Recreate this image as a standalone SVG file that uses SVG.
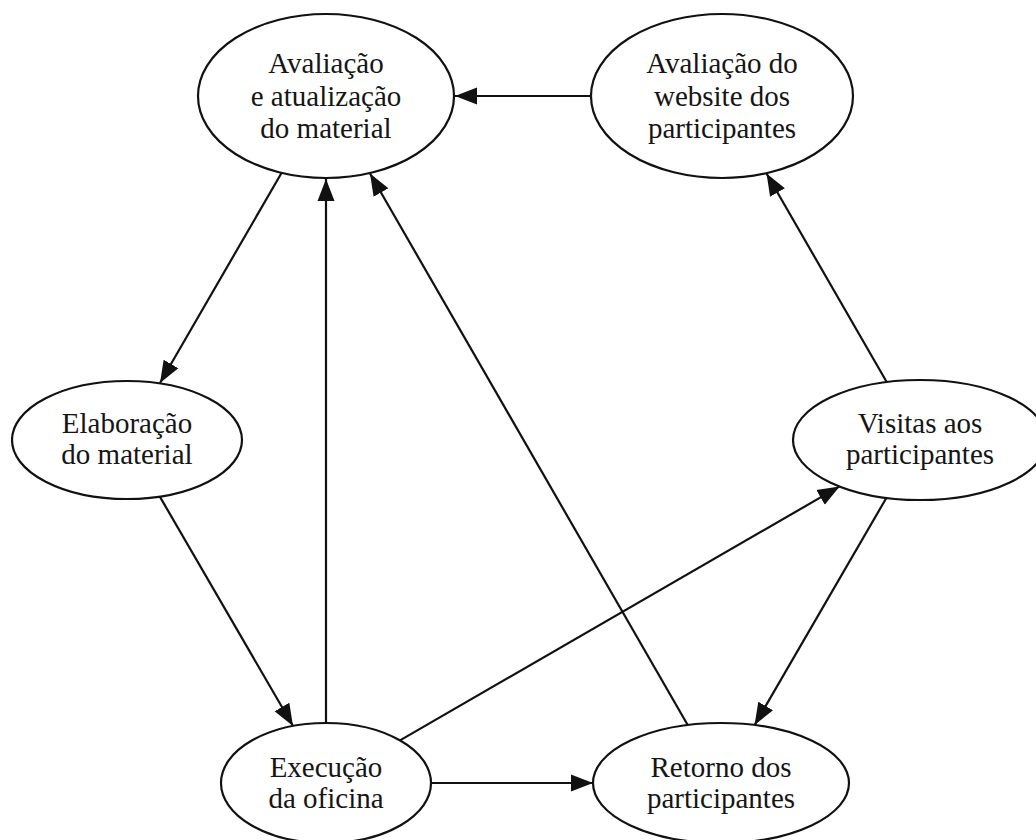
<svg xmlns="http://www.w3.org/2000/svg" width="1036" height="840" viewBox="0 0 1036 840">
  <style>
    .node ellipse { fill: #ffffff; stroke: #111111; stroke-width: 2.2; }
    .node text { font-family: "Liberation Serif", "Times New Roman", serif; font-size: 29px; fill: #151515; text-anchor: middle; }
    .edge { stroke: #111111; stroke-width: 2.2; fill: none; marker-end: url(#arrow); }
  </style>
  <defs>
    <!-- filled triangular arrowhead, tip placed at the line end -->
    <marker id="arrow" markerUnits="userSpaceOnUse" markerWidth="24" markerHeight="19" viewBox="0 0 24 19" refX="22" refY="9.5" orient="auto">
      <path d="M0,1 L22,9.5 L0,18 Z" fill="#111111"/>
    </marker>
  </defs>
  <rect width="1036" height="840" fill="#ffffff"/>

  <!-- connectors: straight centre-to-centre lines clipped at the ellipse borders -->
  <g id="edges">
    <line class="edge" x1="591" y1="96" x2="455" y2="96"/>
    <line class="edge" x1="281.5" y1="173" x2="160" y2="383"/>
    <line class="edge" x1="159.7" y1="496.4" x2="293" y2="726"/>
    <line class="edge" x1="326" y1="723" x2="326" y2="179"/>
    <line class="edge" x1="687.7" y1="725" x2="370" y2="173.5"/>
    <line class="edge" x1="431" y1="783" x2="593" y2="783"/>
    <line class="edge" x1="400" y1="740.4" x2="839.6" y2="486.4"/>
    <line class="edge" x1="886.7" y1="382" x2="766.5" y2="173.5"/>
    <line class="edge" x1="886.5" y1="497.7" x2="754.6" y2="725"/>
  </g>

  <!-- nodes -->
  <g id="avaliacao-material" class="node">
    <ellipse cx="326" cy="96" rx="128" ry="82"/>
    <text x="326" y="73">Avaliação</text>
    <text x="326" y="106">e atualização</text>
    <text x="326" y="138">do material</text>
  </g>
  <g id="avaliacao-website" class="node">
    <ellipse cx="722" cy="96" rx="131" ry="82"/>
    <text x="722" y="73">Avaliação do</text>
    <text x="722" y="106">website dos</text>
    <text x="722" y="138">participantes</text>
  </g>
  <g id="elaboracao" class="node">
    <ellipse cx="127" cy="440" rx="115" ry="59"/>
    <text x="127" y="433">Elaboração</text>
    <text x="127" y="464">do material</text>
  </g>
  <g id="visitas" class="node">
    <ellipse cx="920" cy="440" rx="127" ry="60"/>
    <text x="920" y="433">Visitas aos</text>
    <text x="920" y="464">participantes</text>
  </g>
  <g id="execucao" class="node">
    <ellipse cx="326" cy="783" rx="105" ry="60"/>
    <text x="326" y="777">Execução</text>
    <text x="326" y="808">da oficina</text>
  </g>
  <g id="retorno" class="node">
    <ellipse cx="721" cy="783" rx="128" ry="60"/>
    <text x="721" y="777">Retorno dos</text>
    <text x="721" y="808">participantes</text>
  </g>
</svg>
